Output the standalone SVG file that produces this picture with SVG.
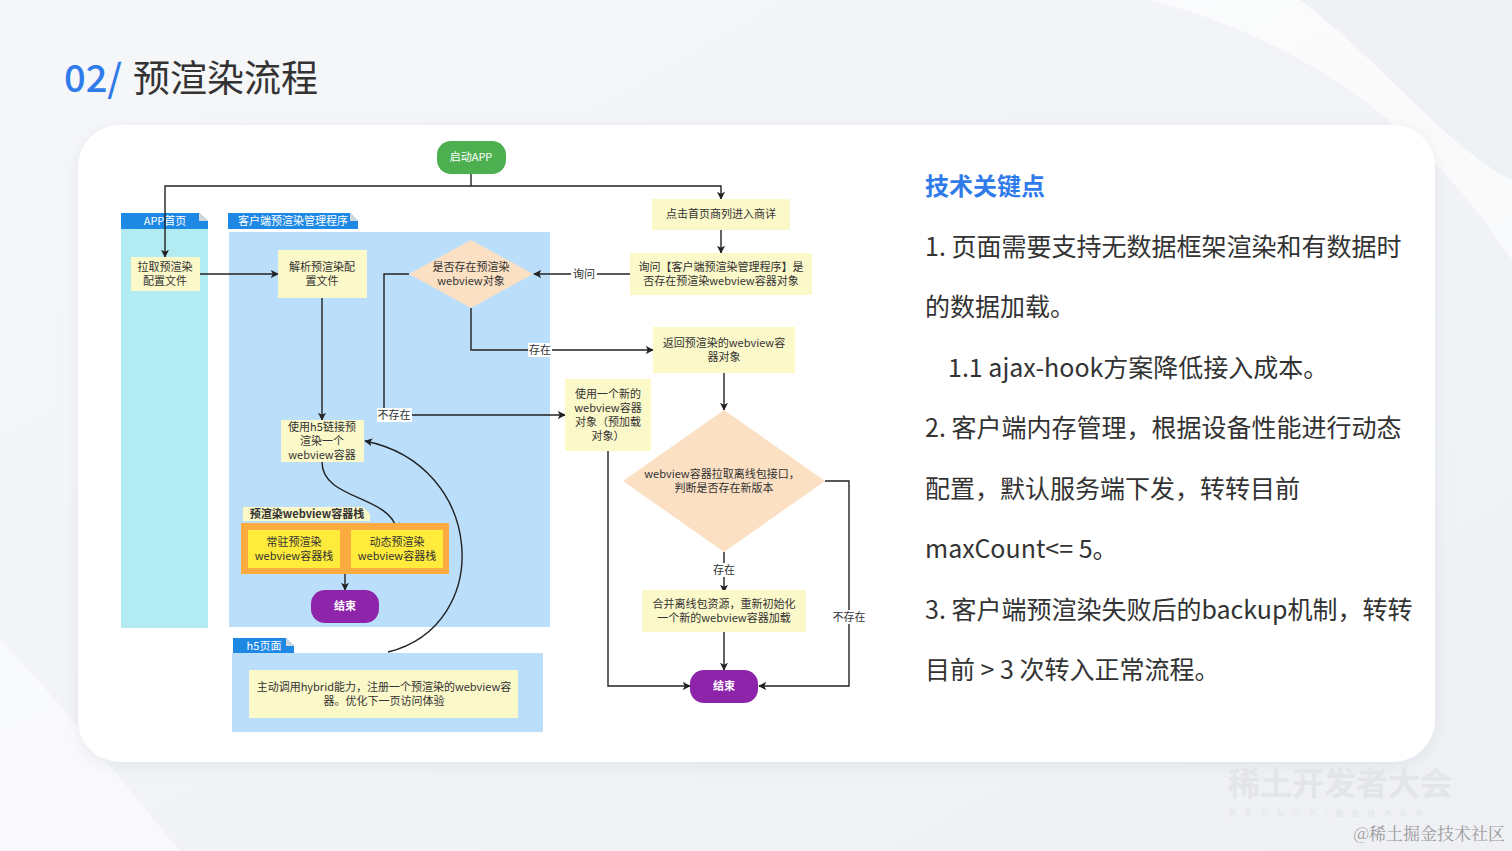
<svg xmlns="http://www.w3.org/2000/svg" width="1512" height="851" viewBox="0 0 1512 851">
<defs>
<marker id="ah" viewBox="0 0 10 10" refX="9" refY="5" markerWidth="8" markerHeight="8" markerUnits="userSpaceOnUse" orient="auto"><path d="M0,0 L10,5 L0,10 L2.5,5 z" fill="#222"/></marker>
<filter id="sh" x="-5%" y="-5%" width="110%" height="115%"><feDropShadow dx="0" dy="4" stdDeviation="8" flood-color="#9aa3b5" flood-opacity="0.18"/></filter>
<linearGradient id="bg" x1="0" y1="0" x2="1" y2="1"><stop offset="0" stop-color="#f6f7f9"/><stop offset="1" stop-color="#eef0f4"/></linearGradient>
</defs>
<style>
text{font-family:"Noto Sans CJK SC","Noto Sans",sans-serif;}
.t{font-size:11px;fill:#333;text-anchor:middle;}
.tw{font-size:11px;fill:#fff;text-anchor:middle;}
.lbl{font-size:11px;fill:#333;text-anchor:middle;}
.box{fill:#fbf8c9;}
.dia{fill:#fbe0c3;}
.end{fill:#8e24aa;}
.hdr{fill:#1e88e5;}
.ln{fill:none;stroke:#222;stroke-width:1.4;}
.arr{fill:none;stroke:#222;stroke-width:1.4;marker-end:url(#ah);}
.body{font-size:25px;fill:#333;}
</style>
<rect width="1512" height="851" fill="url(#bg)"/>
<path d="M1150,0 C1300,40 1420,120 1512,260 L1512,0 Z" fill="#ffffff" opacity="0.6"/>
<path d="M1300,0 C1380,60 1450,150 1512,180 L1512,0 Z" fill="#e9ecf1" opacity="0.7"/>
<path d="M0,640 C60,700 120,780 180,851 L0,851 Z" fill="#ffffff" opacity="0.5"/>
<rect x="78" y="125" width="1357" height="637" rx="42" fill="#ffffff" filter="url(#sh)"/>

<text x="64" y="92" font-size="38" fill="#2f7bea" font-weight="500">02/</text>
<text x="133" y="92" font-size="37" fill="#333">预渲染流程</text>

<!-- lanes -->
<g id="lane-app">
<rect x="121" y="229" width="87" height="399" fill="#b2ebf2"/>
<path d="M121,213 H199 L208,221 V229 H121 Z" class="hdr"/>
<path d="M199,213 L208,221 H199 Z" fill="#cfd8dc"/>
<text x="165" y="225" class="tw">APP首页</text>
</g>
<g id="lane-client">
<rect x="229" y="232" width="321" height="395" fill="#bbdefb"/>
<path d="M228,213 H350 L358,221 V229 H228 Z" class="hdr"/>
<path d="M350,213 L358,221 H350 Z" fill="#cfd8dc"/>
<text x="293" y="225" class="tw">客户端预渲染管理程序</text>
</g>
<g id="lane-h5">
<rect x="232" y="653" width="311" height="79" fill="#bbdefb"/>
<path d="M233,638 H286 L294,646 V653 H233 Z" class="hdr"/>
<path d="M286,638 L294,646 H286 Z" fill="#cfd8dc"/>
<text x="264" y="650" class="tw">h5页面</text>
</g>

<!-- connectors -->
<g id="connectors">
<path d="M471,174 V186" class="ln"/>
<path d="M471,186 H165 V257" class="arr"/>
<path d="M471,186 H721 V199" class="arr"/>
<path d="M721,230 V253" class="arr"/>
<path d="M200,274 H278" class="arr"/>
<path d="M630,274 H534" class="arr"/>
<path d="M471,308 V350 H653" class="arr"/>
<path d="M409,274 H384 V415 H565" class="arr"/>
<path d="M322,298 V420" class="arr"/>
<path d="M322,462 C322,500 390,495 397,530" class="arr"/>
<path d="M388,652 C495,625 485,465 365,441" class="arr"/>
<path d="M345,574 V590" class="arr"/>
<path d="M724,373 V410" class="arr"/>
<path d="M724,552 V592" class="arr"/>
<path d="M724,632 V670" class="arr"/>
<path d="M608,451 V686 H690" class="arr"/>
<path d="M825,481 H849 V686 H759" class="arr"/>
<rect x="571" y="267" width="26" height="14" fill="#fff"/>
<text x="584" y="278" class="lbl">询问</text>
<rect x="528" y="343" width="24" height="14" fill="#fff"/>
<text x="540" y="354" class="lbl">存在</text>
<rect x="377" y="408" width="35" height="14" fill="#fff"/>
<text x="394" y="419" class="lbl">不存在</text>
<rect x="712" y="563" width="24" height="14" fill="#fff"/>
<text x="724" y="574" class="lbl">存在</text>
<rect x="831" y="610" width="35" height="14" fill="#fff"/>
<text x="849" y="621" class="lbl">不存在</text>
</g>

<!-- nodes -->
<g id="n-start">
<rect x="437" y="141" width="69" height="33" rx="14" fill="#4caf50"/>
<text x="471" y="161" class="tw">启动APP</text>
</g>
<g id="n-pull">
<rect x="131" y="257" width="69" height="34" class="box"/>
<text x="165" y="271" class="t">拉取预渲染</text>
<text x="165" y="285" class="t">配置文件</text>
</g>
<g id="n-parse">
<rect x="278" y="250" width="89" height="48" class="box"/>
<text x="322" y="271" class="t">解析预渲染配</text>
<text x="322" y="285" class="t">置文件</text>
</g>
<g id="n-exist">
<path d="M471,240 L533,274 L471,308 L409,274 Z" class="dia"/>
<text x="471" y="271" class="t">是否存在预渲染</text>
<text x="471" y="285" class="t">webview对象</text>
</g>
<g id="n-click">
<rect x="652" y="199" width="138" height="31" class="box"/>
<text x="721" y="218" class="t">点击首页商列进入商详</text>
</g>
<g id="n-ask">
<rect x="630" y="253" width="182" height="42" class="box"/>
<text x="721" y="271" class="t">询问【客户端预渲染管理程序】是</text>
<text x="721" y="285" class="t">否存在预渲染webview容器对象</text>
</g>
<g id="n-return">
<rect x="653" y="327" width="142" height="46" class="box"/>
<text x="724" y="347" class="t">返回预渲染的webview容</text>
<text x="724" y="361" class="t">器对象</text>
</g>
<g id="n-new">
<rect x="565" y="379" width="86" height="72" class="box"/>
<text x="608" y="398" class="t">使用一个新的</text>
<text x="608" y="412" class="t">webview容器</text>
<text x="608" y="426" class="t">对象（预加载</text>
<text x="608" y="440" class="t">对象）</text>
</g>
<g id="n-h5render">
<rect x="281" y="420" width="83" height="42" class="box"/>
<text x="322" y="431" class="t">使用h5链接预</text>
<text x="322" y="445" class="t">渲染一个</text>
<text x="322" y="459" class="t">webview容器</text>
</g>
<g id="n-stack">
<path d="M243,507 H363 L370,514 V521 H243 Z" fill="#fbf8c9"/>
<text x="307" y="518" class="t" font-weight="bold">预渲染webview容器栈</text>
<rect x="241" y="523" width="208" height="51" fill="#fbab40"/>
<rect x="248" y="530" width="92" height="38" fill="#ffeb3b"/>
<text x="294" y="546" class="t">常驻预渲染</text>
<text x="294" y="560" class="t">webview容器栈</text>
<rect x="351" y="530" width="92" height="38" fill="#ffeb3b"/>
<text x="397" y="546" class="t">动态预渲染</text>
<text x="397" y="560" class="t">webview容器栈</text>
</g>
<g id="n-end1">
<rect x="311" y="590" width="68" height="33" rx="14" class="end"/>
<text x="345" y="610" class="tw" font-weight="bold">结束</text>
</g>
<g id="n-hybrid">
<rect x="249" y="670" width="269" height="48" class="box"/>
<text x="384" y="691" class="t">主动调用hybrid能力，注册一个预渲染的webview容</text>
<text x="384" y="705" class="t">器。优化下一页访问体验</text>
</g>
<g id="n-offline">
<path d="M724,410 L825,481 L724,552 L623,481 Z" class="dia"/>
<text x="722" y="478" class="t">webview容器拉取离线包接口，</text>
<text x="724" y="492" class="t">判断是否存在新版本</text>
</g>
<g id="n-merge">
<rect x="642" y="590" width="164" height="42" class="box"/>
<text x="724" y="608" class="t">合并离线包资源，重新初始化</text>
<text x="724" y="622" class="t">一个新的webview容器加载</text>
</g>
<g id="n-end2">
<rect x="690" y="670" width="68" height="33" rx="14" class="end"/>
<text x="724" y="690" class="tw" font-weight="bold">结束</text>
</g>

<!-- right text -->
<g id="notes">
<text x="925" y="195" font-size="24" font-weight="bold" fill="#2f7bea">技术关键点</text>
<text x="925" y="256" class="body">1. 页面需要支持无数据框架渲染和有数据时</text>
<text x="925" y="316" class="body">的数据加载。</text>
<text x="948" y="377" class="body">1.1 ajax-hook方案降低接入成本。</text>
<text x="925" y="437" class="body">2. 客户端内存管理，根据设备性能进行动态</text>
<text x="925" y="498" class="body">配置，默认服务端下发，转转目前</text>
<text x="925" y="558" class="body">maxCount&lt;= 5。</text>
<text x="925" y="619" class="body">3. 客户端预渲染失败后的backup机制，转转</text>
<text x="925" y="679" class="body">目前 &gt; 3 次转入正常流程。</text>
</g>

<!-- watermark -->
<text x="1228" y="795" font-size="32" fill="#e3e5e9" font-weight="bold">稀土开发者大会</text>
<text x="1228" y="816" font-size="8" fill="#e3e5e9" letter-spacing="8">激发万有引力/掘金技术未来</text>
<text x="1505" y="840" font-size="17" fill="#9a9a9a" text-anchor="end" style="font-family:'Noto Serif CJK SC','Liberation Serif',serif">@稀土掘金技术社区</text>
</svg>
